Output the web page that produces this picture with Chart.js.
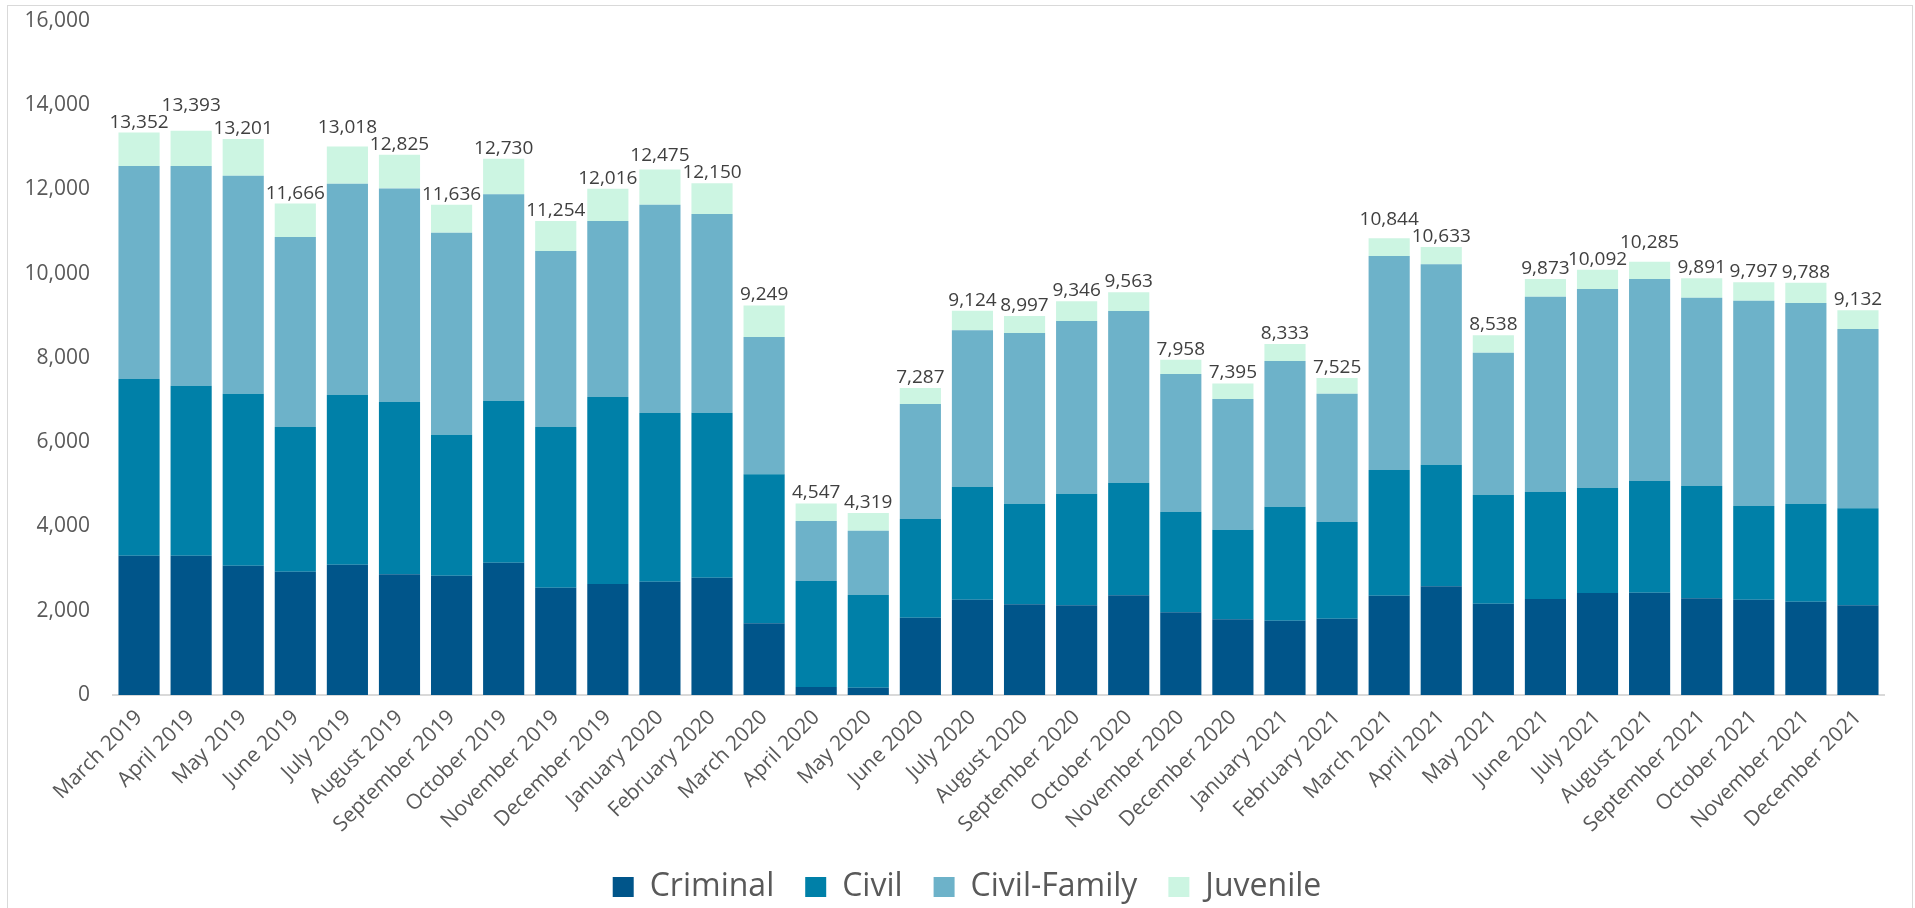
<!DOCTYPE html>
<html>
<head>
<meta charset="utf-8">
<title>Monthly filings by case type, March 2019 – December 2021</title>
<script src="https://cdn.jsdelivr.net/npm/chart.js@4.4.1/dist/chart.umd.min.js"></script>
<style>
  html, body { margin: 0; padding: 0; background: #ffffff; }
  #wrap { position: relative; width: 1915px; height: 908px; overflow: hidden; background: #ffffff; }
  #chart { position: absolute; left: 0; top: 0; }
  #frame {
    position: absolute; left: 7px; top: 5px; width: 1906px; height: 912px;
    border: 1px solid #d9d9d9; box-sizing: border-box; pointer-events: none;
  }
</style>
</head>
<body>
<div id="wrap">
  <canvas id="chart" width="1915" height="908"></canvas>
  <div id="frame"></div>
</div>
<script>
// Months on the category axis
const months = [
  'March 2019', 'April 2019', 'May 2019', 'June 2019', 'July 2019', 'August 2019',
  'September 2019', 'October 2019', 'November 2019', 'December 2019',
  'January 2020', 'February 2020', 'March 2020', 'April 2020', 'May 2020', 'June 2020',
  'July 2020', 'August 2020', 'September 2020', 'October 2020', 'November 2020', 'December 2020',
  'January 2021', 'February 2021', 'March 2021', 'April 2021', 'May 2021', 'June 2021',
  'July 2021', 'August 2021', 'September 2021', 'October 2021', 'November 2021', 'December 2021'
];

// Filings per case type
const criminal = [
  3307, 3307, 3070, 2927, 3094, 2864, 2832, 3141, 2548, 2635,
  2690, 2785, 1701, 190, 174, 1836, 2263, 2153, 2129, 2366, 1962, 1796,
  1765, 1812, 2358, 2580, 2167, 2279, 2421, 2429, 2295, 2263, 2216, 2129
];
const civil = [
  4194, 4035, 4082, 3434, 4027, 4098, 3347, 3845, 3814, 4439,
  4005, 3917, 3538, 2516, 2200, 2342, 2675, 2389, 2650, 2675, 2390, 2129,
  2706, 2295, 2984, 2888, 2581, 2540, 2493, 2651, 2667, 2224, 2326, 2303
];
const civilFamily = [
  5055, 5214, 5174, 4510, 5015, 5064, 4796, 4900, 4179, 4179,
  4945, 4717, 3260, 1425, 1527, 2730, 3719, 4052, 4100, 4075, 3269, 3103,
  3459, 3047, 5080, 4757, 3378, 4637, 4723, 4795, 4470, 4874, 4764, 4257
];
const juvenile = [
  796, 837, 875, 795, 882, 799, 661, 844, 713, 763,
  835, 731, 750, 416, 418, 379, 467, 403, 467, 447, 337, 367,
  403, 371, 422, 408, 412, 417, 455, 410, 459, 436, 482, 443
];

// Value axis ticks
const yTicks = [0, 2000, 4000, 6000, 8000, 10000, 12000, 14000, 16000];

const FONT = '"Open Sans", "DejaVu Sans", sans-serif';
const fmt = v => Number(v).toLocaleString('en-US');

// Writes the monthly total above each stacked column; when two neighbouring
// totals would collide, the larger one is lifted above the other.
const totalLabels = {
  id: 'totalLabels',
  afterDatasetsDraw(chart) {
    const ctx = chart.ctx;
    const topMeta = chart.getDatasetMeta(chart.data.datasets.length - 1);
    const GAP = 5, CAP = 14, MIN_OVERLAP = 3;
    ctx.save();
    ctx.font = '19px ' + FONT;
    ctx.fillStyle = '#404040';
    ctx.textAlign = 'center';
    ctx.textBaseline = 'alphabetic';

    const items = topMeta.data.map((bar, i) => {
      const total = criminal[i] + civil[i] + civilFamily[i] + juvenile[i];
      const text = fmt(total);
      const w = ctx.measureText(text).width;
      return { total, text, x: bar.x, w, base: bar.y - GAP };
    });

    const collide = (a, b) => {
      const hOverlap = Math.min(a.x + a.w / 2, b.x + b.w / 2) - Math.max(a.x - a.w / 2, b.x - b.w / 2);
      const vOverlap = Math.min(a.base, b.base) - Math.max(a.base - CAP, b.base - CAP);
      return hOverlap > MIN_OVERLAP && vOverlap > 0;
    };

    for (let i = 1; i < items.length; i++) {
      const a = items[i - 1], b = items[i];
      if (collide(a, b)) {
        const hi = a.total >= b.total ? a : b;
        const lo = hi === a ? b : a;
        hi.base = lo.base - CAP - 3;
      }
    }

    items.forEach(it => ctx.fillText(it.text, it.x, it.base));
    ctx.restore();
  }
};

// Nudges the bottom legend so it sits centred under the whole frame
const legendShift = {
  id: 'legendShift',
  afterLayout(chart) {
    const lg = chart.legend;
    if (lg) { lg.left += 25; lg.right += 25; }
  }
};

function build() {
  if (build.done) return;
  build.done = true;

  const series = [
    { label: 'Criminal', data: criminal, backgroundColor: '#00558a' },
    { label: 'Civil', data: civil, backgroundColor: '#0080a8' },
    { label: 'Civil-Family', data: civilFamily, backgroundColor: '#6db2c9' },
    { label: 'Juvenile', data: juvenile, backgroundColor: '#ccf5e2' }
  ];

  new Chart(document.getElementById('chart'), {
    type: 'bar',
    data: {
      labels: months,
      datasets: series.map(s => ({
        label: s.label,
        data: s.data,
        backgroundColor: s.backgroundColor,
        borderWidth: 0,
        barPercentage: 0.79,
        categoryPercentage: 1.0
      }))
    },
    options: {
      responsive: false,
      devicePixelRatio: 1,
      animation: false,
      layout: { padding: { left: 0, right: 31, top: 21, bottom: -5 } },
      plugins: {
        tooltip: { enabled: false },
        legend: {
          position: 'bottom',
          align: 'center',
          labels: {
            font: { family: FONT, size: 32 },
            color: '#595959',
            boxWidth: 21,
            boxHeight: 20,
            padding: 31
          }
        }
      },
      scales: {
        x: {
          stacked: true,
          grid: { display: false, drawTicks: false },
          border: { display: true, color: '#d9d9d9', width: 2 },
          ticks: {
            autoSkip: false,
            minRotation: 45,
            maxRotation: 45,
            padding: 10,
            color: '#595959',
            font: { family: FONT, size: 21 }
          },
          afterFit(scale) { scale.height = 145; }
        },
        y: {
          stacked: true,
          min: yTicks[0],
          max: yTicks[yTicks.length - 1],
          grid: { display: false, drawTicks: false },
          border: { display: false },
          afterBuildTicks(scale) { scale.ticks = yTicks.map(v => ({ value: v })); },
          ticks: {
            padding: 23,
            color: '#595959',
            font: { family: FONT, size: 21 },
            callback: v => fmt(v)
          },
          afterFit(scale) {
            scale.width = 113;
            scale.paddingTop = 0;
            scale.paddingBottom = 0;
          }
        }
      }
    },
    plugins: [totalLabels, legendShift]
  });
}

if (document.fonts && document.fonts.load) {
  Promise.all([
    document.fonts.load('21px "Open Sans"'),
    document.fonts.load('32px "Open Sans"')
  ]).then(build, build);
  setTimeout(build, 1500);
} else {
  build();
}
</script>
</body>
</html>
